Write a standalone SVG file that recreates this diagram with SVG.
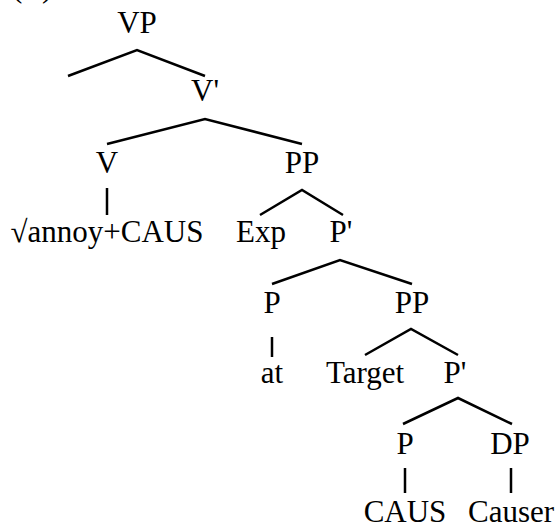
<svg xmlns="http://www.w3.org/2000/svg" width="558" height="527" viewBox="0 0 558 527">
<style>
.e{stroke:#000;stroke-width:2.5;fill:none}
</style>
<rect width="558" height="527" fill="#fff"/>
<text font-family="Liberation Serif" font-size="31" x="12" y="-3">(</text>
<text font-family="Liberation Serif" font-size="31" x="42" y="-3">)</text>
<g id="VP"><text font-family="Liberation Serif" font-size="31" text-anchor="middle" x="137" y="33">VP</text></g>
<g id="Vbar"><text font-family="Liberation Serif" font-size="31" text-anchor="middle" x="205" y="101">V'</text></g>
<g id="V"><text font-family="Liberation Serif" font-size="31" text-anchor="middle" x="107" y="173">V</text></g>
<g id="PP1"><text font-family="Liberation Serif" font-size="31" text-anchor="middle" x="302" y="173">PP</text></g>
<g id="root"><text font-family="Liberation Serif" font-size="31" text-anchor="middle" x="107" y="242">√annoy+CAUS</text></g>
<g id="Exp"><text font-family="Liberation Serif" font-size="31" text-anchor="middle" x="261" y="242">Exp</text></g>
<g id="Pbar1"><text font-family="Liberation Serif" font-size="31" text-anchor="middle" x="341" y="242">P'</text></g>
<g id="P1"><text font-family="Liberation Serif" font-size="31" text-anchor="middle" x="272" y="313">P</text></g>
<g id="PP2"><text font-family="Liberation Serif" font-size="31" text-anchor="middle" x="412" y="313">PP</text></g>
<g id="at"><text font-family="Liberation Serif" font-size="31" text-anchor="middle" x="272" y="383">at</text></g>
<g id="Target"><text font-family="Liberation Serif" font-size="31" text-anchor="middle" x="365" y="383">Target</text></g>
<g id="Pbar2"><text font-family="Liberation Serif" font-size="31" text-anchor="middle" x="455" y="383">P'</text></g>
<g id="P2"><text font-family="Liberation Serif" font-size="31" text-anchor="middle" x="405" y="454">P</text></g>
<g id="DP"><text font-family="Liberation Serif" font-size="31" text-anchor="middle" x="510" y="454">DP</text></g>
<g id="CAUS"><text font-family="Liberation Serif" font-size="31" text-anchor="middle" x="405" y="522">CAUS</text></g>
<g id="Causer"><text font-family="Liberation Serif" font-size="31" text-anchor="middle" x="511" y="522">Causer</text></g>
<g id="edges" class="e">
<polyline class="e" points="68,76 137,50 205,76"/>
<polyline class="e" points="107,144 205,119 302,144"/>
<line class="e" x1="107" y1="188" x2="107" y2="215"/>
<polyline class="e" points="260,215 302,190 343,215"/>
<polyline class="e" points="272,284 340,260 412,284"/>
<line class="e" x1="272" y1="337" x2="272" y2="357"/>
<polyline class="e" points="365,355 411,329 458,355"/>
<polyline class="e" points="403,424 458,398 512,424"/>
<line class="e" x1="405" y1="468" x2="405" y2="493"/>
<line class="e" x1="511" y1="468" x2="511" y2="493"/>
</g>
</svg>
